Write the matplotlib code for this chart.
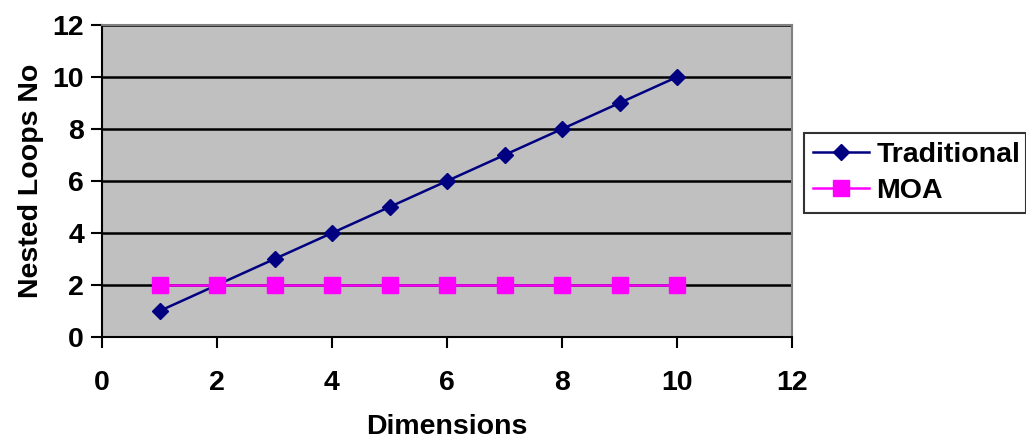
import matplotlib
matplotlib.use("Agg")
import matplotlib.pyplot as plt

dimensions = [1, 2, 3, 4, 5, 6, 7, 8, 9, 10]
traditional = [1, 2, 3, 4, 5, 6, 7, 8, 9, 10]
moa = [2, 2, 2, 2, 2, 2, 2, 2, 2, 2]
xticks = [0, 2, 4, 6, 8, 10, 12]
yticks = [0, 2, 4, 6, 8, 10, 12]

plt.rcParams['font.family'] = ['Liberation Sans', 'DejaVu Sans']
plt.rcParams['font.weight'] = 'bold'
FS = 20.5

fig = plt.figure(figsize=(10.26, 4.4), dpi=100)
ax = fig.add_axes([102/1026, 1-337/440, (792-102)/1026, (337-25)/440])
ax.set_facecolor('#c0c0c0')

ax.plot(dimensions, traditional, color='#000080', lw=1.8, marker='D', ms=8.5,
        markerfacecolor='#000080', markeredgecolor='#000080', label='Traditional', zorder=3)
ax.plot(dimensions, moa, color='#ff00ff', lw=1.8, marker='s', ms=11,
        markerfacecolor='#ff00ff', markeredgecolor='#ff00ff', label='MOA', zorder=3)

ax.set_xlim(0, 12)
ax.set_ylim(0, 12)
ax.set_xticks(xticks)
ax.set_yticks(yticks)
ax.yaxis.grid(True, color='black', lw=1.8, zorder=1)
ax.set_axisbelow(True)

for s in ['top', 'right']:
    ax.spines[s].set_color('#808080')
    ax.spines[s].set_linewidth(1.5)
for s in ['left', 'bottom']:
    ax.spines[s].set_color('black')
    ax.spines[s].set_linewidth(1.5)

ax.tick_params(axis='both', direction='out', length=8, width=1.5, labelsize=FS, color='black')
ax.tick_params(axis='x', pad=16)
ax.tick_params(axis='y', pad=5)
for lab in ax.get_xticklabels() + ax.get_yticklabels():
    lab.set_fontweight('bold')

ax.set_xlabel('Dimensions', fontsize=FS, fontweight='bold', labelpad=13)
ax.set_ylabel('Nested Loops No', fontsize=FS, fontweight='bold', labelpad=6)

leg = ax.legend(loc='center left', bbox_to_anchor=(804/1026, 1-216/440, (1026-804)/1026, (216-130)/440),
                bbox_transform=fig.transFigure, mode='expand', fontsize=FS, frameon=True,
                fancybox=False, edgecolor='black', handlelength=2.0, handletextpad=0.25,
                borderaxespad=0, borderpad=0.3, labelspacing=0.35)
leg.get_frame().set_linewidth(1.5)
for t in leg.get_texts():
    t.set_fontweight('bold')

fig.savefig('out.png', dpi=100)
